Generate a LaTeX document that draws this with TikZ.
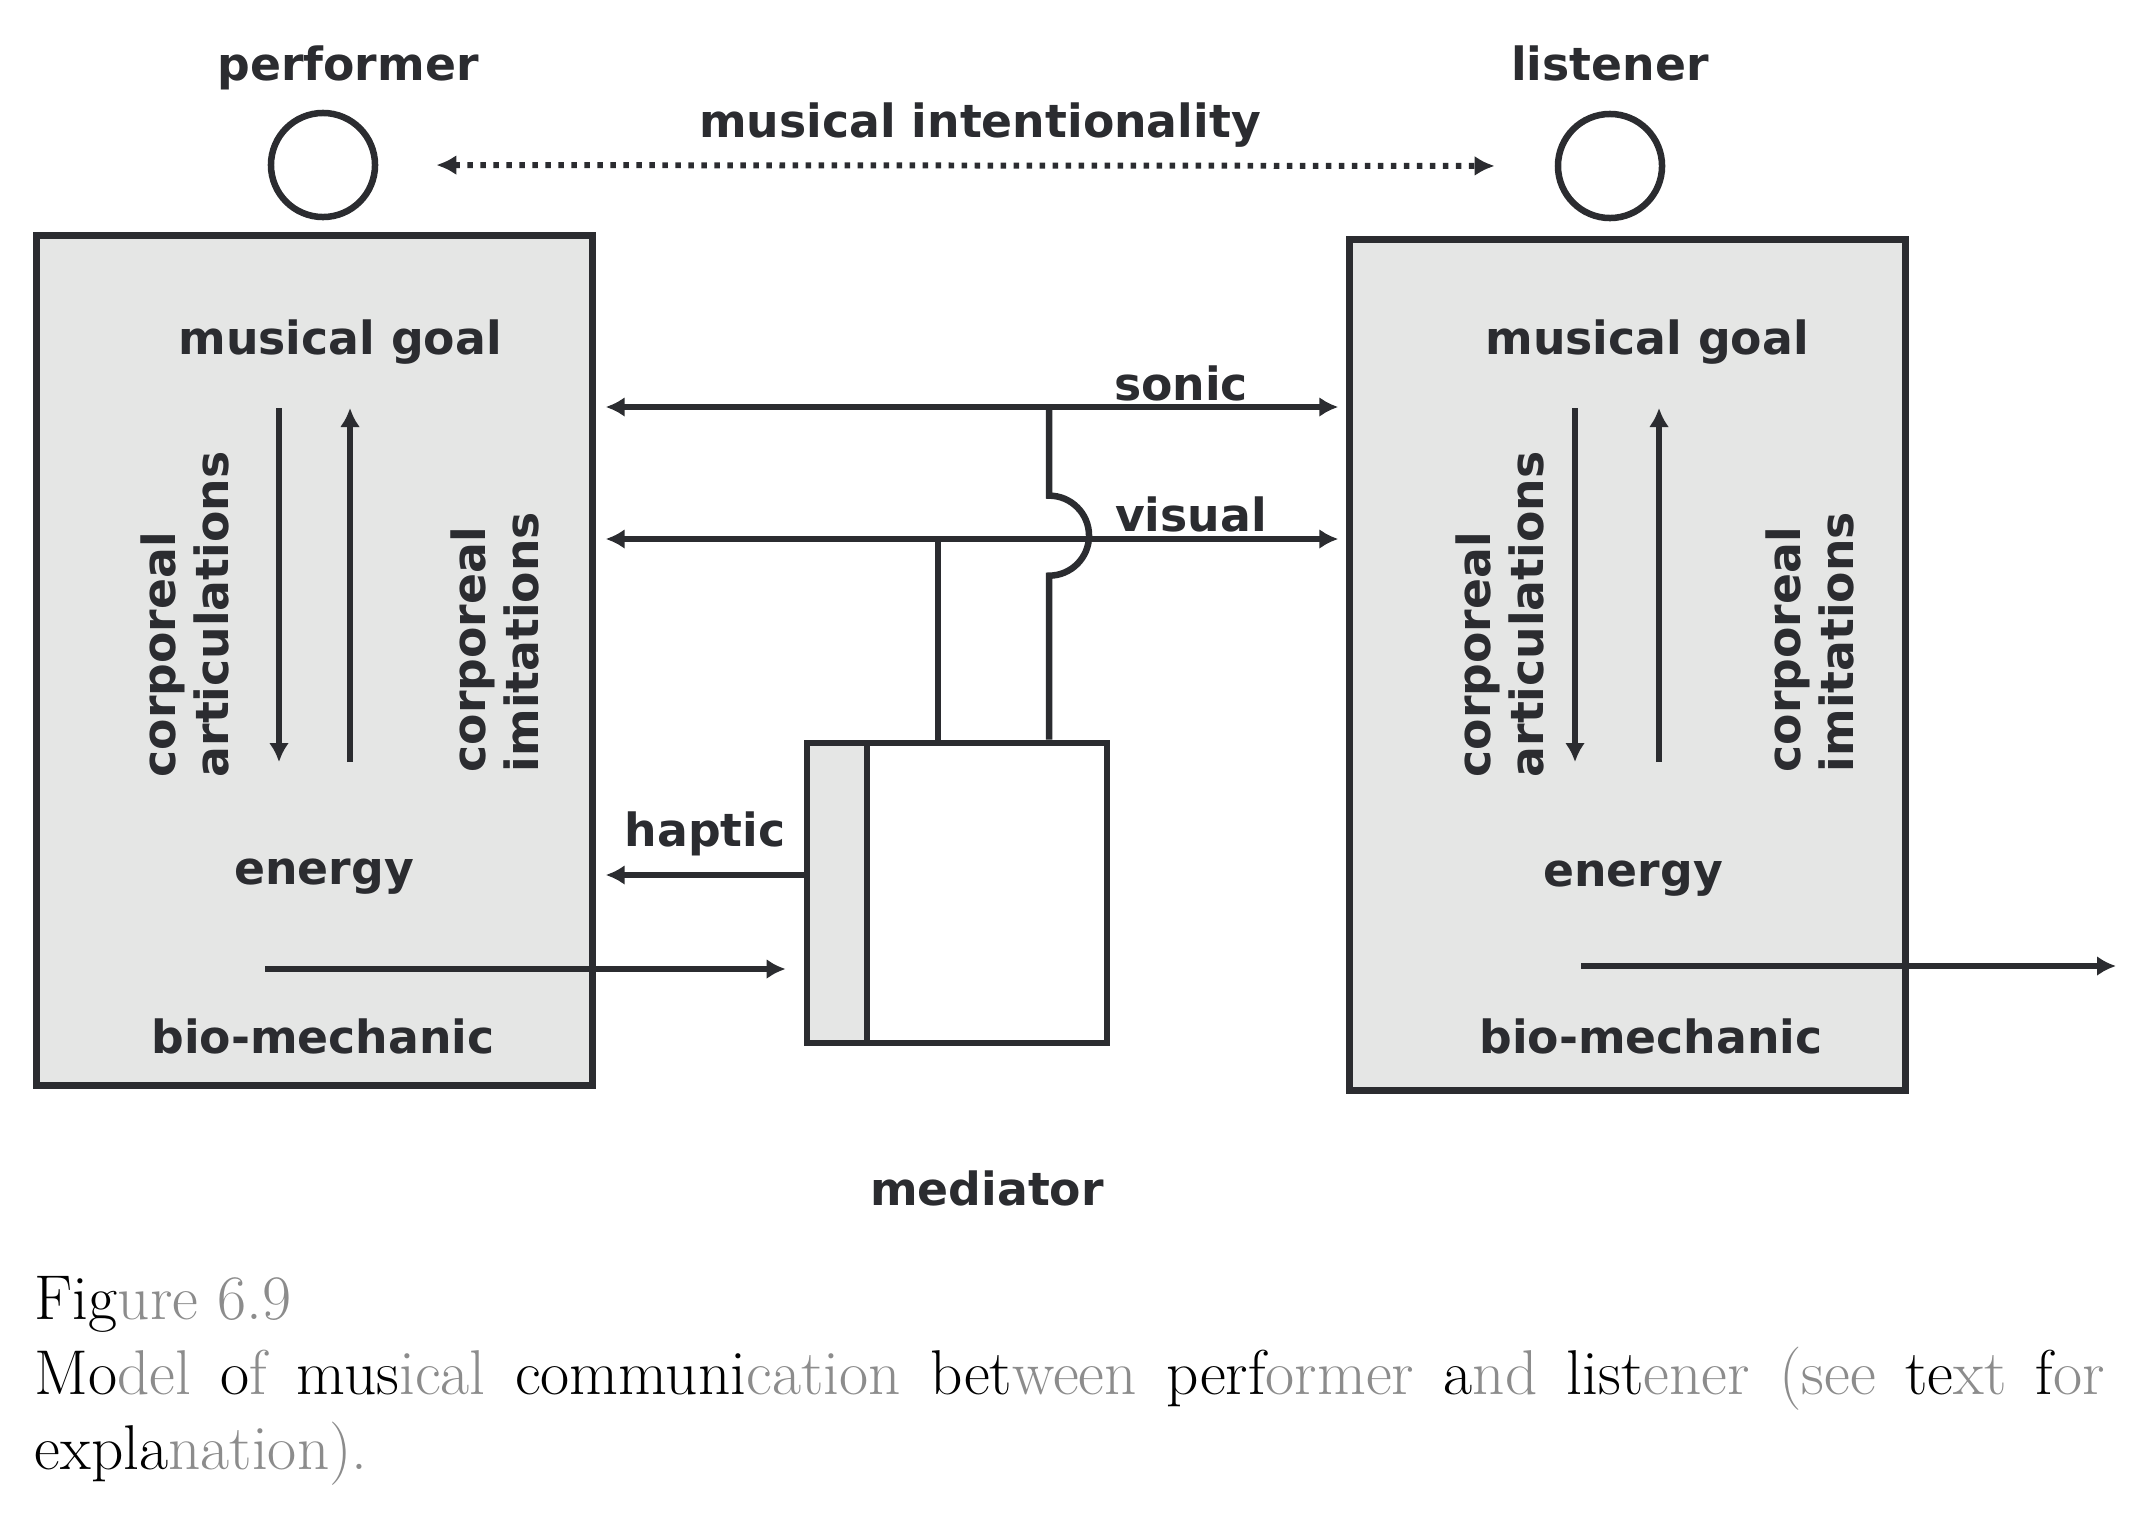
\documentclass[tikz,border=0pt]{standalone}
\usepackage{fontspec}
\setsansfont{DejaVu Sans}
\usetikzlibrary{positioning,arrows.meta}
\definecolor{ink}{HTML}{2B2C30}
\definecolor{boxgray}{HTML}{E5E6E5}
\definecolor{capgray}{HTML}{8C8C8C}
\newcommand{\gr}[1]{\textcolor{capgray}{#1}}

\begin{document}
\begin{tikzpicture}[x=0.01cm, y=-0.01cm, >={Latex[length=0.19cm,width=0.2cm]},
  every node/.style={font=\sffamily\bfseries\fontsize{13}{15}\selectfont, text=ink}]
\tikzstyle{line}=[draw=ink, line width=1.85pt]
\tikzstyle{body}=[draw=ink, line width=2pt, fill=boxgray, minimum width=5.55cm, minimum height=8.5cm, inner sep=0]
\tikzstyle{head}=[circle, draw=ink, line width=1.85pt, minimum size=1.04cm, inner sep=0]
\tikzstyle{vlabel}=[rotate=90, anchor=west, align=left, inner sep=0]
\tikzstyle{lbl}=[anchor=base, inner sep=0]
\useasboundingbox (0,0) rectangle (2134,1518);
% performer and listener
\node[head] (phead) at (323,165) {};
\node[head] (lhead) at (1610,166) {};
\node[lbl] (plabel) at (348,80) {performer};
\node[lbl] (llabel) at (1610,80) {listener};
\node[lbl] (intent) at (980,137) {musical intentionality};
\draw[line, <->, line width=1.7pt, dash pattern=on 0.055cm off 0.075cm, >={Latex[length=0.2cm,width=0.2cm]},
  shorten <=0.58cm, shorten >=0.6cm] (phead.east) -- (lhead.west);
% bodies
\node[body] (pbody) at (314.5,660.5) {};
\node[body] (lbody) at (1627.5,665) {};
\node[lbl] (pgoal) at (340,354) {musical goal};
\node[lbl] (lgoal) at (1647,354) {musical goal};
\node[lbl] (pen) at (324,884) {energy};
\node[lbl] (len) at (1633,886) {energy};
\node[lbl] (pbio) at (323,1053) {bio-mechanic};
\node[lbl] (lbio) at (1651,1053) {bio-mechanic};
\node[vlabel] (partic) at (185,778) {corporeal\\articulations};
\node[vlabel] (pimit) at (495,773) {corporeal\\imitations};
\node[vlabel] (lartic) at (1500,778) {corporeal\\articulations};
\node[vlabel] (limit) at (1810,773) {corporeal\\imitations};
\draw[line, ->] (279,408) -- (279,762);
\draw[line, ->] (350,762) -- (350,408);
\draw[line, ->] (1575,408) -- (1575,762);
\draw[line, ->] (1659,762) -- (1659,408);
% mediator
\node[draw=ink, line width=1.85pt, minimum size=3cm, inner sep=0, fill=white] (medbox) at (957,893) {};
\node[draw=ink, line width=1.85pt, fill=boxgray, minimum width=0.6cm, minimum height=3cm, inner sep=0, anchor=west] (medstrip) at (medbox.west) {};
\node[lbl] (medlabel) at (987,1205) {mediator};
% channels
\coordinate (sjoin) at (1049,407);
\coordinate (vjoin) at (938,539);
\draw[line, <->, shorten <=0.1cm, shorten >=0.08cm] (pbody.east |- sjoin) -- (lbody.west |- sjoin);
\draw[line, <->, shorten <=0.1cm, shorten >=0.08cm] (pbody.east |- vjoin) -- (lbody.west |- vjoin);
\node[lbl] (sonic) at (1181,400) {sonic};
\node[lbl] (visual) at (1191,531) {visual};
\draw[line] (medbox.north -| vjoin) -- (vjoin);
\draw[line] (medbox.north -| sjoin) -- ++(0,-164) arc[start angle=-90, end angle=90, radius=0.4cm] -- (sjoin);
\coordinate (hjoin) at (807,875);
\draw[line, ->, shorten >=0.1cm] (medstrip.west |- hjoin) -- (pbody.east |- hjoin);
\node[lbl] (haptic) at (705,846) {haptic};
\coordinate (pstart) at (265,969);
\draw[line, ->, shorten >=0.18cm] (pstart) -- (medstrip.west |- pstart);
\coordinate (lstart) at (1581,966);
\coordinate (lend) at (2116,966);
\draw[line, ->] (lstart) -- (lend);
% caption
\node[anchor=north west, inner sep=0, align=left, text=black,
  font=\rmfamily\mdseries\fontsize{18}{21.3}\selectfont] (caption) at (34,1276)
  {Fig\gr{ure 6.9}\\
   \makebox[20.69cm][s]{Mo\gr{del} o\gr{f} mus\gr{ical} communi\gr{cation} bet\gr{ween} perf\gr{ormer} a\gr{nd} list\gr{ener} \gr{(see} te\gr{xt} f\gr{or}}\\
   expla\gr{nation).}};
\end{tikzpicture}
\end{document}
